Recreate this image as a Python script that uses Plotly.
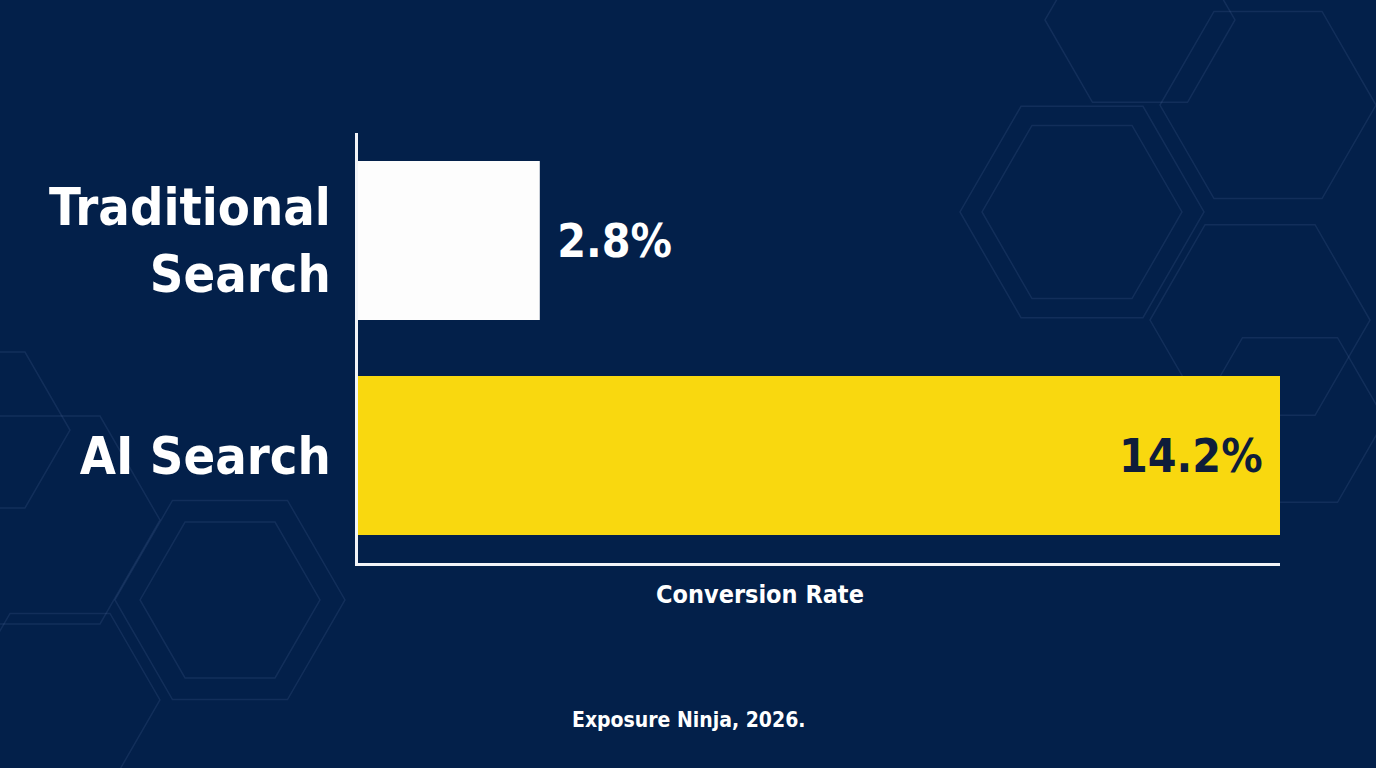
import math
import plotly.graph_objects as go

categories = ["Traditional<br>Search", "AI Search"]
values = [2.8, 14.2]
value_labels = ["&nbsp;2.8%", "14.2%&nbsp;"]
bar_colors = ["#fdfdfd", "#f9d80f"]
label_colors = ["#ffffff", "#0f1d3a"]
text_positions = ["outside", "inside"]
x_title = "Conversion Rate"
source = "Exposure Ninja, 2026."

BG = "#03204a"
FONT = "DejaVu Sans Condensed, Liberation Sans Narrow, sans-serif"

W, H = 1376, 768
L, R, T, B = 358, 96, 133, 205
PW, PH = W - L - R, H - T - B


def px(x, y):
    return (x - L) / PW, (H - B - y) / PH


def hex_path(cx, cy, r):
    pts = []
    for k in range(6):
        a = math.radians(60 * k)
        pts.append(px(cx + r * math.cos(a), cy + r * math.sin(a)))
    return "M " + " L ".join(f"{x:.4f},{y:.4f}" for x, y in pts) + " Z"


fig = go.Figure(
    go.Bar(
        y=categories,
        x=values,
        orientation="h",
        marker=dict(color=bar_colors, line=dict(width=0)),
        width=0.74,
        text=value_labels,
        textposition=text_positions,
        insidetextanchor="end",
        textfont=dict(family=FONT, size=46, color=label_colors, weight="bold"),
        cliponaxis=False,
    )
)

# faint decorative circuit hexagons
deco = "rgba(120,150,200,0.13)"
shapes = []
for cx, cy, r in [
    (1268, 105, 108), (1082, 212, 122), (1082, 212, 100), (1260, 320, 110),
    (1290, 420, 95), (1140, 20, 95), (40, 520, 120), (230, 600, 115),
    (230, 600, 90), (60, 700, 100), (-20, 430, 90),
]:
    shapes.append(dict(type="path", path=hex_path(cx, cy, r), xref="paper", yref="paper",
                       line=dict(color=deco, width=1.5), layer="below"))

fig.update_layout(
    width=W, height=H,
    margin=dict(l=L, r=R, t=T, b=B),
    paper_bgcolor=BG, plot_bgcolor=BG,
    showlegend=False,
    bargap=0.26,
    font=dict(family=FONT, color="#ffffff"),
    shapes=shapes,
    xaxis=dict(range=[0, 14.2], showgrid=False, zeroline=False, showticklabels=False,
               showline=True, linecolor="#f2f4f8", linewidth=2.5, ticks=""),
    yaxis=dict(autorange="reversed", showgrid=False, zeroline=False,
               showline=True, linecolor="#f2f4f8", linewidth=2.5, ticks="",
               ticklabelstandoff=14,
               tickfont=dict(family=FONT, size=52, color="#ffffff", weight="bold")),
    annotations=[
        dict(text=x_title, xref="paper", yref="paper", x=px(760, 0)[0], y=px(0, 594)[1],
             xanchor="center", yanchor="middle", showarrow=False,
             font=dict(family=FONT, size=25, color="#ffffff", weight="bold")),
        dict(text=source, xref="paper", yref="paper", x=px(688, 0)[0], y=px(0, 720)[1],
             xanchor="center", yanchor="middle", showarrow=False,
             font=dict(family=FONT, size=21, color="#ffffff", weight="bold")),
    ],
)

fig.write_html("out.html")
